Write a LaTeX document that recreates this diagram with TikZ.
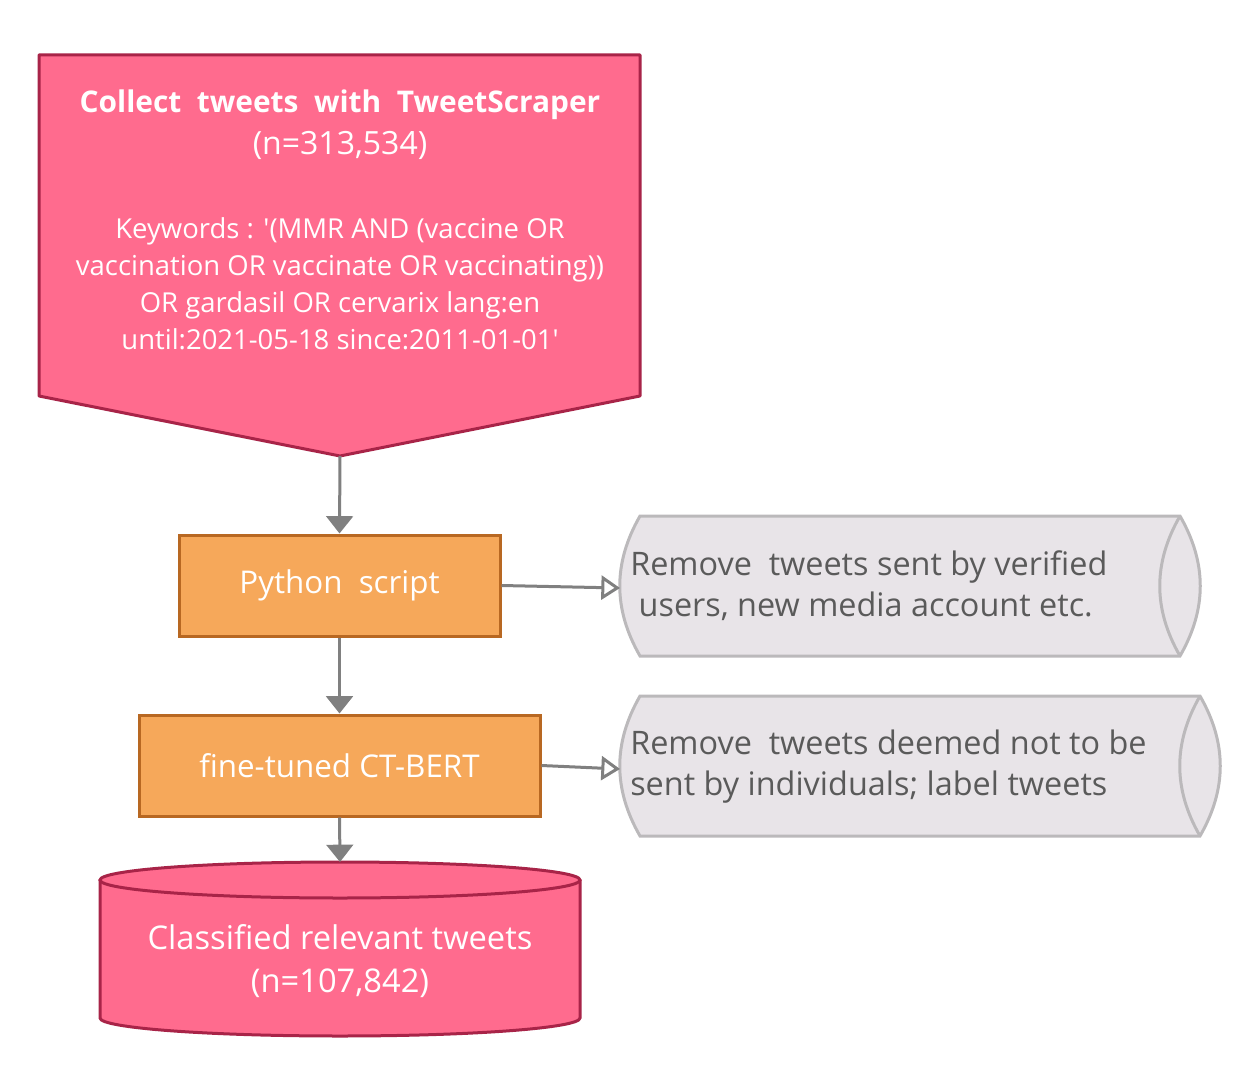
\documentclass[tikz,border=0pt]{standalone}
\usepackage{fontspec}
\setmainfont{Open Sans}
\usetikzlibrary{arrows.meta,positioning}

\definecolor{pinkFill}{RGB}{255,107,142}
\definecolor{pinkLine}{RGB}{168,36,72}
\definecolor{orangeFill}{RGB}{246,168,90}
\definecolor{orangeLine}{RGB}{184,104,34}
\definecolor{noteFill}{RGB}{232,228,232}
\definecolor{noteLine}{RGB}{187,185,187}
\definecolor{noteText}{RGB}{90,90,90}
\definecolor{arrowGray}{RGB}{128,128,128}

\tikzset{
  procbox/.style={draw=orangeLine, fill=orangeFill, line width=2.25pt, text=white,
    minimum height=75.75pt, font=\fontsize{23.5}{26}\selectfont},
  notetext/.style={text=noteText, align=left, inner sep=0pt,
    font=\fontsize{24.3}{30.75}\selectfont},
  flowarrow/.style={draw=arrowGray, line width=2.25pt, -{Triangle[length=13pt,width=20pt]}},
  notearrow/.style={draw=arrowGray, line width=2.25pt, -{Triangle[length=14pt,width=18pt,fill=white]}}
}

\begin{document}
\begin{tikzpicture}[x=0.75pt, y=-0.75pt]
        \useasboundingbox (0,0) rectangle (1260,1077);

        % Draw the collect step (pentagon pointing down)
        \draw[fill=pinkFill, draw=pinkLine, line width=2.25pt, line join=round]
          (39,55) -- (640,55) -- (640,396) -- (340,456) -- (39,396) -- cycle;
        \coordinate (collectTip) at (340,456);
        \node[text=white, align=center, font=\fontsize{24}{31.5}\selectfont] (collect) at (340,125)
          {{\fontsize{22.4}{31.5}\selectfont\textbf{Collect\ \ tweets\ \ with\ \ TweetScraper}}\\(n=313,534)};
        \node[text=white, align=center, font=\fontsize{20.6}{27.75}\selectfont] (keywords) at (340,284)
          {Keywords : \textquotesingle(MMR AND (vaccine OR\\vaccination OR vaccinate OR vaccinating))\\OR gardasil OR cervarix lang:en\\until:2021-05-18 since:2011-01-01\textquotesingle};

        % Processing boxes
        \node[procbox, minimum width=240.75pt] (python) at (339.5,585.5) {Python\ \ script};
        \node[procbox, minimum width=300.75pt] (ctbert) at (339.5,765.5) {fine-tuned CT-BERT};

        % Stored notes on the right
        \draw[fill=noteFill, draw=noteLine, line width=2.25pt]
          (640,516) -- (1180,516) .. controls (1207,563) and (1207,609) .. (1180,656)
          -- (640,656) .. controls (613,609) and (613,563) .. cycle;
        \draw[draw=noteLine, line width=2.25pt]
          (1180,516) .. controls (1153,563) and (1153,609) .. (1180,656);
        \coordinate (removeAIn) at (620,588);
        \node[notetext, anchor=west] (removeA) at (630,586)
          {Remove\ \ tweets sent by verified\\\ users, new media account etc.};

        \draw[fill=noteFill, draw=noteLine, line width=2.25pt]
          (640,696) -- (1200,696) .. controls (1227,743) and (1227,789) .. (1200,836)
          -- (640,836) .. controls (613,789) and (613,743) .. cycle;
        \draw[draw=noteLine, line width=2.25pt]
          (1200,696) .. controls (1173,743) and (1173,789) .. (1200,836);
        \coordinate (removeBIn) at (620,769);
        \node[notetext, anchor=west] (removeB) at (630,767)
          {Remove\ \ tweets deemed not to be\\sent by individuals; label tweets};

        % Output database (cylinder)
        \draw[fill=pinkFill, draw=pinkLine, line width=2.25pt]
          (100,880) -- (100,1018) arc[start angle=180, end angle=360, x radius=180pt, y radius=13.5pt]
          -- (580,880);
        \draw[fill=pinkFill, draw=pinkLine, line width=2.25pt] (340,880) ellipse[x radius=180pt, y radius=13.5pt];
        \coordinate (tweetsTop) at (340,862);
        \node[text=white, align=center, font=\fontsize{24.5}{32}\selectfont] (tweets) at (340,961)
          {Classified relevant tweets\\(n=107,842)};

        % Connectors
        \draw[flowarrow] (collectTip) -- (python.north);
        \draw[flowarrow] (python.south) -- (ctbert.north);
        \draw[flowarrow] (ctbert.south) -- (tweetsTop);
        \draw[notearrow] (python.east) -- (removeAIn);
        \draw[notearrow] (ctbert.east) -- (removeBIn);
\end{tikzpicture}
\end{document}
